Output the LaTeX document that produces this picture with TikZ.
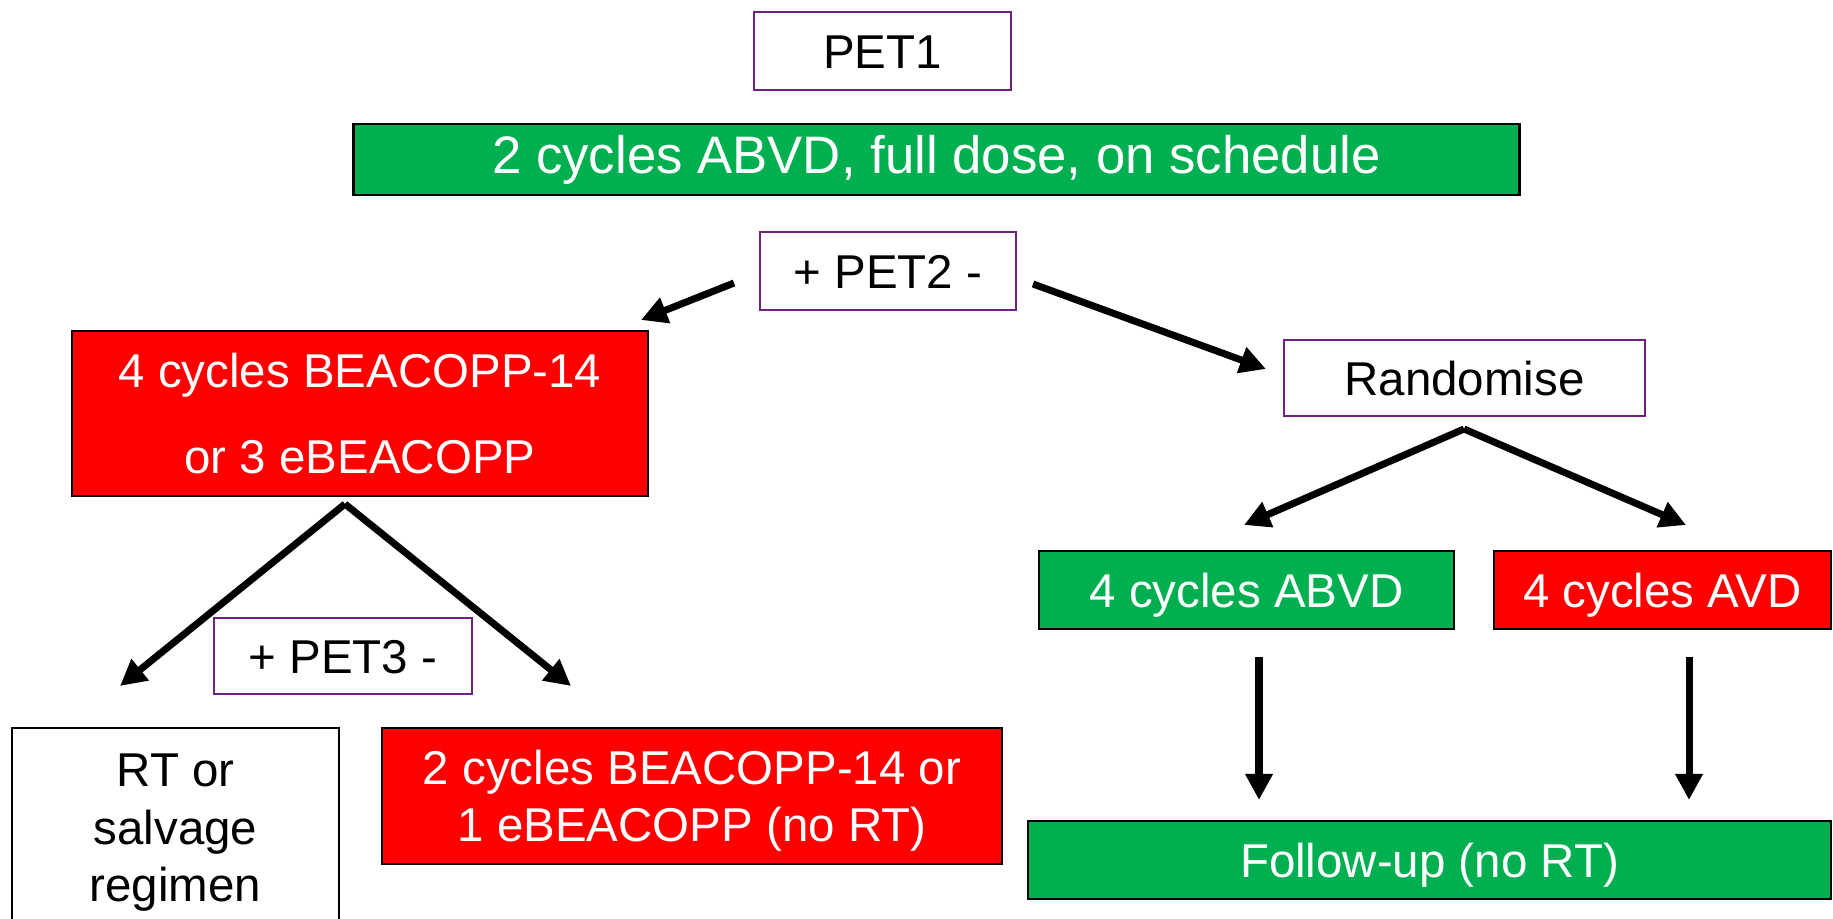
\documentclass[tikz,border=0pt]{standalone}
\usepackage{fontspec}
\setmainfont{Liberation Sans}
\usepackage{tikz}
\usetikzlibrary{arrows.meta}
\definecolor{armgreen}{HTML}{00B050}
\definecolor{armred}{HTML}{FF0000}
\definecolor{petframe}{HTML}{70207F}
\tikzset{
  pet/.style={rectangle, draw=petframe, fill=white, line width=0.7pt,
              minimum height=0.78cm, inner sep=0pt, text height=9.7pt, text depth=0pt,
              font=\fontsize{13.5}{16.3}\selectfont},
  good/.style={rectangle, draw=black, fill=armgreen, text=white, line width=0.7pt,
               minimum height=0.78cm, inner sep=0pt, text height=9.7pt, text depth=0pt,
               align=center, font=\fontsize{13.5}{16.3}\selectfont},
  bad/.style={rectangle, draw=black, fill=armred, text=white, line width=0.7pt,
              minimum height=0.78cm, inner sep=0pt, text height=9.7pt, text depth=0pt,
              align=center, font=\fontsize{13.5}{16.3}\selectfont},
  plain/.style={rectangle, draw=black, fill=white, line width=0.7pt,
                inner sep=0pt, text depth=0pt, align=center,
                font=\fontsize{13.5}{16.3}\selectfont},
  arr/.style={-{Triangle[length=2.6mm, width=2.6mm]}, line width=2pt, black},
}

\begin{document}
\begin{tikzpicture}[x=0.01cm, y=-0.01cm]
  \useasboundingbox (0,0) rectangle (1833,919);
  % top
  \node[pet, minimum width=2.57cm] (pet1) at (882.5,51) {PET1};
  \node[good, minimum width=11.65cm, minimum height=0.71cm, text height=10.7pt,
        text depth=2.8pt, font=\fontsize{15}{18}\selectfont] (abvd2) at (936.5,159.5)
    {2 cycles ABVD, full dose, on schedule};
  \node[pet, minimum width=2.56cm] (pet2) at (888,271) {+ PET2 -};
  % PET2 positive
  \node[bad, minimum width=5.76cm, minimum height=1.65cm, text height=33.9pt]
    (beacopp) at (360,413.5) {4 cycles BEACOPP-14\\[7.9pt] or 3 eBEACOPP};
  \node[plain, minimum width=3.27cm, minimum height=1.98cm, text height=42.3pt]
    (rt) at (175.5,827) {RT or\\salvage\\regimen};
  \node[bad, minimum width=6.2cm, minimum height=1.36cm, text height=26pt]
    (beacopp2) at (692,796) {2 cycles BEACOPP-14 or\\1 eBEACOPP (no RT)};
  % PET2 negative
  \node[pet, minimum width=3.61cm, minimum height=0.76cm] (rand) at (1464.5,378) {Randomise};
  \node[good, minimum width=4.15cm] (abvd4) at (1246.5,590) {4 cycles ABVD};
  \node[bad, minimum width=3.37cm] (avd4) at (1662.5,590) {4 cycles AVD};
  \node[good, minimum width=8.03cm] (fu) at (1429.5,860) {Follow-up (no RT)};
  % arrow ends
  \coordinate (p2l) at (734,283);  \coordinate (p2r) at (1033,284);
  \coordinate (bpos) at (641,320); \coordinate (rneg) at (1266,369);
  \coordinate (bsplit) at (345,504);
  \coordinate (rtin) at (120,686); \coordinate (b2in) at (571,686);
  \coordinate (rsplit) at (1464,429);
  \coordinate (abin) at (1244,525); \coordinate (avin) at (1686,525);
  \coordinate (about) at (1259,657); \coordinate (avout) at (1689,657);
  \coordinate (fuab) at (1259,800); \coordinate (fuav) at (1689,800);
  \draw[arr] (p2l) -- (bpos);
  \draw[arr] (p2r) -- (rneg);
  \draw[arr] (bsplit) -- (rtin);
  \draw[arr] (bsplit) -- (b2in);
  \draw[arr] (rsplit) -- (abin);
  \draw[arr] (rsplit) -- (avin);
  \draw[arr] (about) -- (fuab);
  \draw[arr] (avout) -- (fuav);
  \node[pet, minimum width=2.58cm, minimum height=0.76cm] (pet3) at (343,656) {+ PET3 -};
\end{tikzpicture}
\end{document}
